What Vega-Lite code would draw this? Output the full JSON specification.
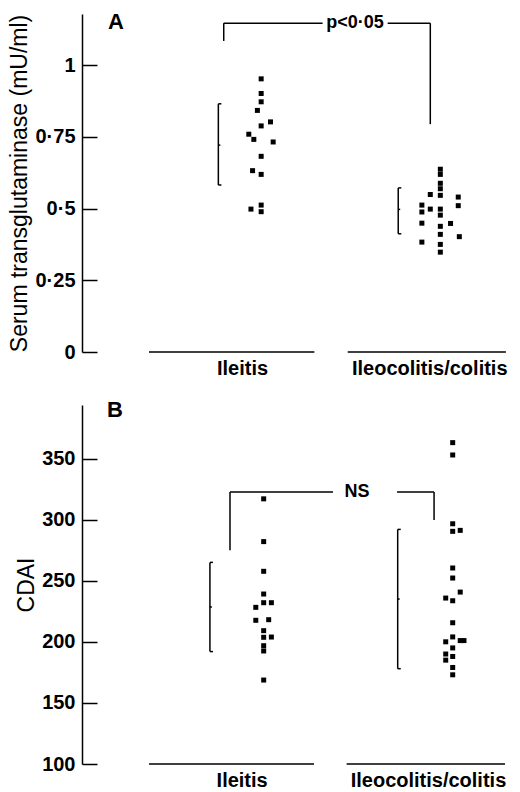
{
  "$schema": "https://vega.github.io/schema/vega-lite/v6.json",
  "padding": {"left": 8, "top": 11, "right": 0, "bottom": 0},
  "background": "white",
  "config": {
    "view": {"stroke": null},
    "axis": {"grid": false, "domainColor": "black", "tickColor": "black", "labelColor": "black", "titleColor": "black", "labelFont": "Liberation Sans", "titleFont": "Liberation Sans"},
    "text": {"font": "Liberation Sans", "color": "black"},
    "concat": {"spacing": 21}
  },
  "datasets": {
    "ptsA": [
      {"group": "Ileitis", "x": 1.0, "value": 0.952},
      {"group": "Ileitis", "x": 1.0, "value": 0.901},
      {"group": "Ileitis", "x": 1.0, "value": 0.872},
      {"group": "Ileitis", "x": 0.979, "value": 0.842},
      {"group": "Ileitis", "x": 1.052, "value": 0.802},
      {"group": "Ileitis", "x": 1.0, "value": 0.788},
      {"group": "Ileitis", "x": 0.931, "value": 0.759},
      {"group": "Ileitis", "x": 0.959, "value": 0.741},
      {"group": "Ileitis", "x": 1.067, "value": 0.732},
      {"group": "Ileitis", "x": 1.0, "value": 0.682},
      {"group": "Ileitis", "x": 0.952, "value": 0.632},
      {"group": "Ileitis", "x": 1.0, "value": 0.619},
      {"group": "Ileitis", "x": 1.0, "value": 0.512},
      {"group": "Ileitis", "x": 0.943, "value": 0.498},
      {"group": "Ileitis", "x": 1.0, "value": 0.489},
      {"group": "Ileocolitis/colitis", "x": 2.0, "value": 0.637},
      {"group": "Ileocolitis/colitis", "x": 2.0, "value": 0.619},
      {"group": "Ileocolitis/colitis", "x": 2.0, "value": 0.588},
      {"group": "Ileocolitis/colitis", "x": 2.0, "value": 0.569},
      {"group": "Ileocolitis/colitis", "x": 1.944, "value": 0.549},
      {"group": "Ileocolitis/colitis", "x": 2.0, "value": 0.546},
      {"group": "Ileocolitis/colitis", "x": 2.1, "value": 0.54},
      {"group": "Ileocolitis/colitis", "x": 1.897, "value": 0.512},
      {"group": "Ileocolitis/colitis", "x": 2.1, "value": 0.51},
      {"group": "Ileocolitis/colitis", "x": 1.944, "value": 0.498},
      {"group": "Ileocolitis/colitis", "x": 2.0, "value": 0.498},
      {"group": "Ileocolitis/colitis", "x": 1.897, "value": 0.488},
      {"group": "Ileocolitis/colitis", "x": 2.0, "value": 0.477},
      {"group": "Ileocolitis/colitis", "x": 1.897, "value": 0.449},
      {"group": "Ileocolitis/colitis", "x": 2.057, "value": 0.448},
      {"group": "Ileocolitis/colitis", "x": 2.0, "value": 0.438},
      {"group": "Ileocolitis/colitis", "x": 2.0, "value": 0.41},
      {"group": "Ileocolitis/colitis", "x": 2.106, "value": 0.402},
      {"group": "Ileocolitis/colitis", "x": 1.897, "value": 0.383},
      {"group": "Ileocolitis/colitis", "x": 2.0, "value": 0.375},
      {"group": "Ileocolitis/colitis", "x": 2.0, "value": 0.348}
    ],
    "ptsB": [
      {"group": "Ileitis", "x": 1.014, "value": 317},
      {"group": "Ileitis", "x": 1.014, "value": 282},
      {"group": "Ileitis", "x": 1.014, "value": 257.7},
      {"group": "Ileitis", "x": 1.014, "value": 239.1},
      {"group": "Ileitis", "x": 1.014, "value": 232},
      {"group": "Ileitis", "x": 1.057, "value": 232},
      {"group": "Ileitis", "x": 0.97, "value": 228.2},
      {"group": "Ileitis", "x": 0.97, "value": 217.6},
      {"group": "Ileitis", "x": 1.042, "value": 218.1},
      {"group": "Ileitis", "x": 1.014, "value": 209.1},
      {"group": "Ileitis", "x": 1.014, "value": 203.7},
      {"group": "Ileitis", "x": 1.057, "value": 203.9},
      {"group": "Ileitis", "x": 1.014, "value": 196.8},
      {"group": "Ileitis", "x": 1.014, "value": 192.5},
      {"group": "Ileitis", "x": 1.014, "value": 168.7},
      {"group": "Ileocolitis/colitis", "x": 2.069, "value": 363},
      {"group": "Ileocolitis/colitis", "x": 2.069, "value": 352.9},
      {"group": "Ileocolitis/colitis", "x": 2.069, "value": 296.6},
      {"group": "Ileocolitis/colitis", "x": 2.069, "value": 290.4},
      {"group": "Ileocolitis/colitis", "x": 2.111, "value": 291.2},
      {"group": "Ileocolitis/colitis", "x": 2.069, "value": 260.4},
      {"group": "Ileocolitis/colitis", "x": 2.069, "value": 252.2},
      {"group": "Ileocolitis/colitis", "x": 2.111, "value": 240.7},
      {"group": "Ileocolitis/colitis", "x": 2.03, "value": 235.8},
      {"group": "Ileocolitis/colitis", "x": 2.069, "value": 233.6},
      {"group": "Ileocolitis/colitis", "x": 2.069, "value": 215.6},
      {"group": "Ileocolitis/colitis", "x": 2.069, "value": 204},
      {"group": "Ileocolitis/colitis", "x": 2.03, "value": 200},
      {"group": "Ileocolitis/colitis", "x": 2.111, "value": 201},
      {"group": "Ileocolitis/colitis", "x": 2.132, "value": 201},
      {"group": "Ileocolitis/colitis", "x": 2.069, "value": 195},
      {"group": "Ileocolitis/colitis", "x": 2.03, "value": 190},
      {"group": "Ileocolitis/colitis", "x": 2.069, "value": 188},
      {"group": "Ileocolitis/colitis", "x": 2.03, "value": 185},
      {"group": "Ileocolitis/colitis", "x": 2.069, "value": 179},
      {"group": "Ileocolitis/colitis", "x": 2.069, "value": 173}
    ],
    "segA": [
      {"part": "baseline", "x": 0.374, "x2": 1.297, "y": 0, "y2": 0},
      {"part": "baseline", "x": 1.483, "x2": 2.366, "y": 0, "y2": 0},
      {"part": "sd", "x": 0.761, "x2": 0.761, "y": 0.582, "y2": 0.865},
      {"part": "sd", "x": 0.761, "x2": 0.778, "y": 0.865, "y2": 0.865},
      {"part": "sd", "x": 0.761, "x2": 0.778, "y": 0.582, "y2": 0.582},
      {"part": "sd", "x": 0.761, "x2": 0.772, "y": 0.721, "y2": 0.721},
      {"part": "sd", "x": 1.765, "x2": 1.765, "y": 0.412, "y2": 0.572},
      {"part": "sd", "x": 1.765, "x2": 1.782, "y": 0.572, "y2": 0.572},
      {"part": "sd", "x": 1.765, "x2": 1.782, "y": 0.412, "y2": 0.412},
      {"part": "sd", "x": 1.765, "x2": 1.776, "y": 0.497, "y2": 0.497},
      {"part": "bracket", "x": 0.791, "x2": 0.791, "y": 1.084, "y2": 1.146},
      {"part": "bracket", "x": 0.791, "x2": 1.343, "y": 1.146, "y2": 1.146},
      {"part": "bracket", "x": 1.706, "x2": 1.944, "y": 1.146, "y2": 1.146},
      {"part": "bracket", "x": 1.944, "x2": 1.944, "y": 0.794, "y2": 1.146}
    ],
    "segB": [
      {"part": "baseline", "x": 0.374, "x2": 1.295, "y": 100, "y2": 100},
      {"part": "baseline", "x": 1.477, "x2": 2.361, "y": 100, "y2": 100},
      {"part": "sd", "x": 0.714, "x2": 0.714, "y": 192, "y2": 265},
      {"part": "sd", "x": 0.714, "x2": 0.731, "y": 265, "y2": 265},
      {"part": "sd", "x": 0.714, "x2": 0.731, "y": 192, "y2": 192},
      {"part": "sd", "x": 0.714, "x2": 0.725, "y": 228.5, "y2": 228.5},
      {"part": "sd", "x": 1.762, "x2": 1.762, "y": 178, "y2": 292},
      {"part": "sd", "x": 1.762, "x2": 1.779, "y": 292, "y2": 292},
      {"part": "sd", "x": 1.762, "x2": 1.779, "y": 178, "y2": 178},
      {"part": "sd", "x": 1.762, "x2": 1.773, "y": 235, "y2": 235},
      {"part": "bracket", "x": 0.826, "x2": 0.826, "y": 275, "y2": 322.6},
      {"part": "bracket", "x": 0.826, "x2": 1.401, "y": 322.6, "y2": 322.6},
      {"part": "bracket", "x": 1.758, "x2": 1.965, "y": 322.6, "y2": 322.6},
      {"part": "bracket", "x": 1.965, "x2": 1.965, "y": 299.7, "y2": 322.6}
    ]
  },
  "vconcat": [
    {
      "width": 430,
      "height": 338,
      "layer": [
        {
          "data": {"name": "segA"},
          "mark": {"type": "rule", "color": "black", "strokeWidth": 1.5},
          "encoding": {
            "x": {"field": "x", "type": "quantitative", "scale": {"domain": [0, 2.4], "nice": false, "zero": false},
              "axis": {"values": [0.893, 1.938], "labelExpr": "datum.value < 1.5 ? 'Ileitis' : 'Ileocolitis/colitis'", "ticks": false, "domain": false, "labelFontSize": 20, "labelFontWeight": "bold", "labelPadding": 6, "labelOverlap": false, "labelBound": false, "labelFlush": false, "title": null}},
            "x2": {"field": "x2"},
            "y": {"field": "y", "type": "quantitative", "scale": {"domain": [0, 1.178], "nice": false, "zero": false},
              "axis": {"values": [0, 0.25, 0.5, 0.75, 1], "labelExpr": "replace(toString(datum.value), '.', '·')", "tickSize": -15, "tickWidth": 1.5, "domainWidth": 1.5, "labelPadding": 22, "labelFontSize": 20, "labelFontWeight": "bold", "title": "Serum transglutaminase (mU/ml)", "titleFontSize": 23, "titleFontWeight": "normal", "titlePadding": 3}},
            "y2": {"field": "y2"}
          }
        },
        {
          "data": {"name": "ptsA"},
          "mark": {"type": "square", "color": "black", "opacity": 1, "size": 25},
          "encoding": {
            "x": {"field": "x", "type": "quantitative"},
            "y": {"field": "value", "type": "quantitative"}
          }
        },
        {
          "data": {"values": [{"t": "A", "x": 0.19, "y": 1.15}]},
          "mark": {"type": "text", "fontSize": 22, "fontWeight": "bold", "baseline": "middle", "align": "center"},
          "encoding": {
            "x": {"field": "x", "type": "quantitative"},
            "y": {"field": "y", "type": "quantitative"},
            "text": {"field": "t"}
          }
        },
        {
          "data": {"values": [{"t": "p<0·05", "x": 1.524, "y": 1.146}]},
          "mark": {"type": "text", "fontSize": 18, "fontWeight": "bold", "baseline": "middle", "align": "center"},
          "encoding": {
            "x": {"field": "x", "type": "quantitative"},
            "y": {"field": "y", "type": "quantitative"},
            "text": {"field": "t"}
          }
        }
      ]
    },
    {
      "width": 430,
      "height": 359,
      "layer": [
        {
          "data": {"name": "segB"},
          "mark": {"type": "rule", "color": "black", "strokeWidth": 1.5},
          "encoding": {
            "x": {"field": "x", "type": "quantitative", "scale": {"domain": [0, 2.4], "nice": false, "zero": false},
              "axis": {"values": [0.891, 1.931], "labelExpr": "datum.value < 1.5 ? 'Ileitis' : 'Ileocolitis/colitis'", "ticks": false, "domain": false, "labelFontSize": 20, "labelFontWeight": "bold", "labelPadding": 6, "labelOverlap": false, "labelBound": false, "labelFlush": false, "title": null}},
            "x2": {"field": "x2"},
            "y": {"field": "y", "type": "quantitative", "scale": {"domain": [100, 393.8], "nice": false, "zero": false},
              "axis": {"values": [100, 150, 200, 250, 300, 350], "tickSize": -15, "tickWidth": 1.5, "domainWidth": 1.5, "labelPadding": 22, "labelFontSize": 20, "labelFontWeight": "bold", "title": "CDAI", "titleFontSize": 23, "titleFontWeight": "normal", "titlePadding": 3}},
            "y2": {"field": "y2"}
          }
        },
        {
          "data": {"name": "ptsB"},
          "mark": {"type": "square", "color": "black", "opacity": 1, "size": 25},
          "encoding": {
            "x": {"field": "x", "type": "quantitative"},
            "y": {"field": "value", "type": "quantitative"}
          }
        },
        {
          "data": {"values": [{"t": "B", "x": 0.184, "y": 389.7}]},
          "mark": {"type": "text", "fontSize": 22, "fontWeight": "bold", "baseline": "middle", "align": "center"},
          "encoding": {
            "x": {"field": "x", "type": "quantitative"},
            "y": {"field": "y", "type": "quantitative"},
            "text": {"field": "t"}
          }
        },
        {
          "data": {"values": [{"t": "NS", "x": 1.535, "y": 322.6}]},
          "mark": {"type": "text", "fontSize": 18, "fontWeight": "bold", "baseline": "middle", "align": "center"},
          "encoding": {
            "x": {"field": "x", "type": "quantitative"},
            "y": {"field": "y", "type": "quantitative"},
            "text": {"field": "t"}
          }
        }
      ]
    }
  ]
}
